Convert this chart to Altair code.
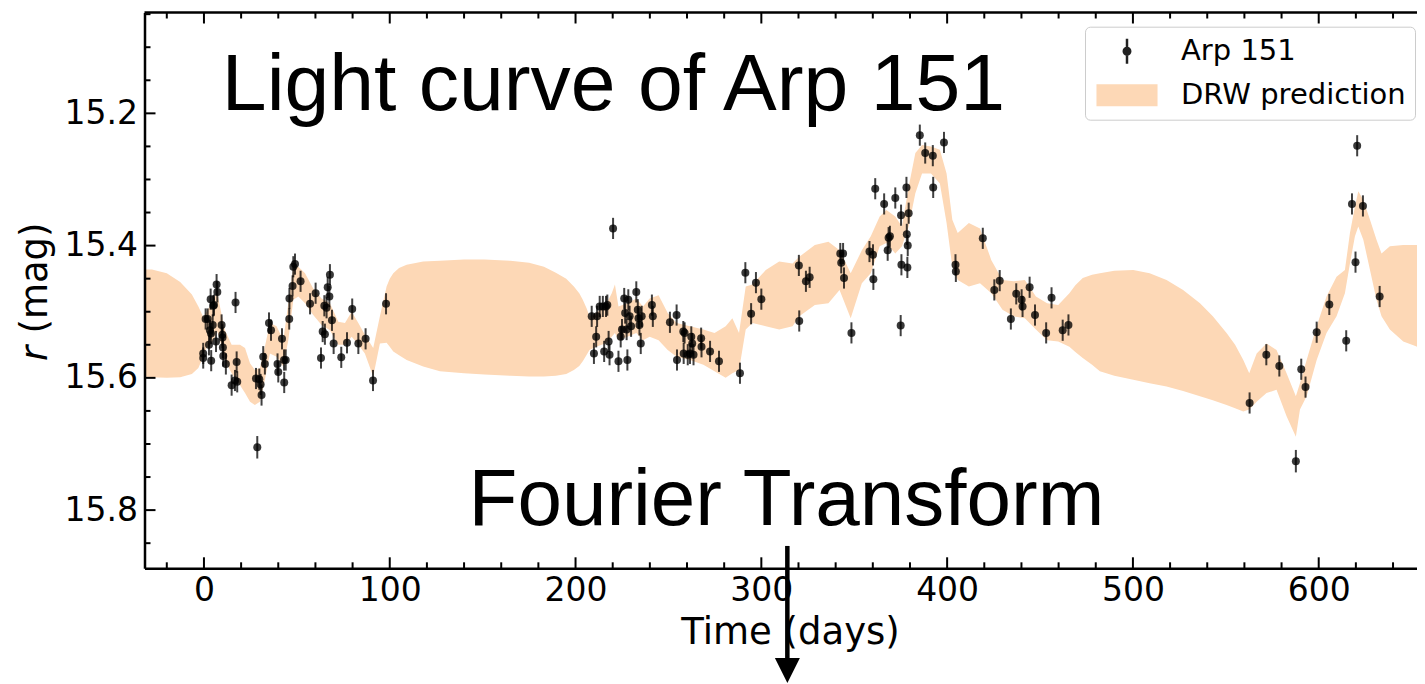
import altair as alt
import pandas as pd

# ---------------- data ----------------
# Observed r-band light curve of Arp 151: time (days), magnitude, error
T_OBS = [
    -0.4, -0.4, 0.9, 2.0, 2.7, 3.2, 3.6, 3.8, 3.9, 4.7,
    5.0, 5.4, 6.5, 6.8, 7.2, 9.5, 9.9, 10.0, 10.2, 10.4,
    11.8, 14.9, 16.7, 17.0, 17.6, 17.9, 28.0, 28.7, 29.8, 30.5,
    31.0, 31.9, 32.8, 35.0, 36.1, 39.6, 40.0, 42.0, 43.1, 43.2,
    44.0, 45.9, 46.0, 47.7, 48.1, 49.0, 52.0, 57.1, 60.1, 63.0,
    63.9, 64.8, 65.1, 66.0, 66.6, 67.5, 67.8, 68.9, 69.8, 73.9,
    77.0, 79.8, 83.1, 87.0, 91.0, 98.0,
    208.7, 209.9, 211.1, 211.6, 213.0, 214.7, 215.4, 216.4, 217.1, 217.8,
    218.3, 220.2, 223.1, 224.3, 225.0, 226.2, 226.7, 227.5, 227.9, 228.4,
    229.1, 229.9, 232.7, 233.5, 233.9, 234.4, 235.1, 235.6, 241.1, 241.6,
    250.8, 254.4, 254.6, 258.0, 258.2, 258.7, 260.4, 261.6, 262.3, 262.8,
    263.5, 267.6, 267.8, 272.4, 277.2, 288.5, 291.4, 294.5, 297.1, 300.0,
    320.2, 320.4, 324.0, 326.0, 342.5, 343.0, 344.0, 344.5, 348.5, 358.2,
    360.1, 360.3, 361.3, 366.1, 368.0, 368.5, 369.2, 372.1, 375.0, 375.2,
    375.4, 378.1, 378.3, 378.6, 378.8, 379.3, 385.3, 388.2, 392.3, 392.5,
    398.3, 404.5, 404.7, 419.2, 425.4, 428.3, 434.3, 437.2, 440.1, 440.6,
    444.4, 447.3, 453.3, 456.2, 462.2, 465.3,
    562.8, 571.8, 578.8, 587.7, 590.6, 592.9, 598.9, 605.7, 614.8, 617.9,
    619.8, 620.7, 623.8, 632.8,
]
MAG_OBS = [
    15.563, 15.570, 15.511, 15.511, 15.550, 15.528, 15.481, 15.533, 15.574, 15.520,
    15.491, 15.490, 15.545, 15.459, 15.470, 15.520, 15.535, 15.539, 15.554, 15.567,
    15.579, 15.611, 15.604, 15.486, 15.576, 15.606, 15.601, 15.705, 15.602, 15.610,
    15.626, 15.568, 15.579, 15.517, 15.528, 15.579, 15.591, 15.541, 15.573, 15.607,
    15.573, 15.511, 15.480, 15.461, 15.432, 15.428, 15.454, 15.488, 15.472, 15.570,
    15.530, 15.491, 15.534, 15.494, 15.463, 15.477, 15.444, 15.513, 15.548, 15.569,
    15.547, 15.496, 15.548, 15.541, 15.604, 15.488,
    15.507, 15.563, 15.538, 15.507, 15.492, 15.492, 15.560, 15.492, 15.490, 15.545,
    15.565, 15.374, 15.575, 15.538, 15.527, 15.480, 15.502, 15.527, 15.573, 15.482,
    15.507, 15.522, 15.470, 15.497, 15.510, 15.520, 15.548, 15.507, 15.490, 15.507,
    15.516, 15.505, 15.573, 15.530, 15.563, 15.532, 15.565, 15.563, 15.538, 15.548,
    15.565, 15.540, 15.553, 15.560, 15.575, 15.593, 15.441, 15.503, 15.456, 15.481,
    15.430, 15.514, 15.454, 15.448, 15.412, 15.426, 15.412, 15.449, 15.532, 15.409,
    15.414, 15.451, 15.314, 15.337, 15.407, 15.388, 15.386, 15.328, 15.521, 15.354,
    15.429, 15.312, 15.383, 15.433, 15.400, 15.351, 15.233, 15.260, 15.264, 15.312,
    15.244, 15.429, 15.439, 15.389, 15.467, 15.453, 15.511, 15.473, 15.482, 15.492,
    15.463, 15.505, 15.532, 15.479, 15.528, 15.520,
    15.638, 15.565, 15.582, 15.726, 15.587, 15.614, 15.531, 15.489, 15.544, 15.337,
    15.425, 15.249, 15.340, 15.477,
]
ERR_OBS = [
    0.016, 0.016, 0.016, 0.016, 0.016, 0.016, 0.016, 0.016, 0.016, 0.016,
    0.016, 0.016, 0.016, 0.016, 0.016, 0.016, 0.016, 0.016, 0.016, 0.016,
    0.016, 0.016, 0.016, 0.016, 0.016, 0.016, 0.016, 0.017, 0.016, 0.016,
    0.016, 0.016, 0.016, 0.016, 0.016, 0.016, 0.016, 0.016, 0.016, 0.016,
    0.016, 0.016, 0.016, 0.016, 0.016, 0.016, 0.016, 0.016, 0.016, 0.016,
    0.016, 0.016, 0.016, 0.016, 0.016, 0.016, 0.016, 0.016, 0.016, 0.016,
    0.016, 0.016, 0.016, 0.016, 0.016, 0.016,
    0.016, 0.016, 0.016, 0.016, 0.016, 0.016, 0.016, 0.016, 0.016, 0.016,
    0.016, 0.016, 0.016, 0.016, 0.016, 0.016, 0.016, 0.016, 0.016, 0.016,
    0.016, 0.016, 0.016, 0.016, 0.016, 0.016, 0.016, 0.016, 0.016, 0.016,
    0.016, 0.016, 0.016, 0.016, 0.016, 0.016, 0.016, 0.016, 0.016, 0.016,
    0.016, 0.016, 0.016, 0.016, 0.016, 0.016, 0.016, 0.016, 0.016, 0.016,
    0.016, 0.016, 0.016, 0.016, 0.016, 0.016, 0.016, 0.016, 0.016, 0.016,
    0.016, 0.016, 0.016, 0.016, 0.016, 0.016, 0.016, 0.016, 0.016, 0.016,
    0.016, 0.016, 0.016, 0.016, 0.016, 0.016, 0.016, 0.016, 0.016, 0.016,
    0.016, 0.016, 0.016, 0.016, 0.016, 0.016, 0.016, 0.016, 0.016, 0.016,
    0.016, 0.016, 0.016, 0.016, 0.016, 0.016,
    0.016, 0.016, 0.016, 0.017, 0.016, 0.016, 0.016, 0.016, 0.016, 0.016,
    0.016, 0.016, 0.016, 0.016,
]

# DRW prediction band: time, bright edge (low mag), faint edge (high mag)
T_BAND = [
    -32.0, -28.0, -20.0, -12.8, -6.5, -3.0, -1.5, -0.4, 1.4, 4.1,
    5.9, 7.2, 8.6, 11.3, 14.9, 19.4, 22.1, 24.8, 27.4, 30.1,
    32.8, 35.5, 39.1, 42.7, 45.4, 48.1, 50.8, 54.4, 58.8, 63.3,
    67.8, 72.3, 75.9, 79.5, 83.1, 86.6, 91.1, 94.7, 98.3, 100.0,
    101.9, 105.0, 109.1, 118.0, 127.0, 140.0, 151.0, 165.0, 175.0, 183.0,
    189.4, 195.0, 199.1, 202.0, 203.9, 206.0, 207.5, 211.1, 215.9, 219.5,
    221.2, 223.1, 227.9, 232.7, 236.3, 239.9, 244.7, 249.6, 254.4, 261.6,
    268.8, 274.8, 280.8, 284.4, 288.0, 291.6, 295.2, 302.4, 309.6, 316.8,
    320.4, 328.8, 336.1, 342.1, 348.1, 354.1, 358.9, 363.7, 367.3, 372.1,
    375.7, 379.3, 382.9, 386.5, 391.3, 396.1, 399.7, 402.8, 405.7, 411.7,
    417.7, 423.8, 429.8, 435.8, 441.8, 447.8, 453.8, 459.8, 465.8, 469.0,
    473.0, 478.0, 482.2, 490.0, 500.2, 509.0, 518.1, 527.0, 536.1, 543.0,
    550.4, 555.0, 559.4, 562.6, 566.6, 571.9, 577.3, 582.7, 587.7, 589.9,
    593.5, 598.9, 604.2, 609.6, 614.1, 616.8, 619.5, 621.3, 624.0, 627.6,
    631.1, 633.8, 638.3, 645.5, 652.0, 658.0,
]
BAND_LO = [
    15.436, 15.436, 15.442, 15.455, 15.474, 15.492, 15.501, 15.508, 15.500, 15.487,
    15.477, 15.470, 15.492, 15.528, 15.550, 15.550, 15.555, 15.578, 15.588, 15.585,
    15.553, 15.517, 15.522, 15.543, 15.487, 15.432, 15.432, 15.442, 15.465, 15.480,
    15.487, 15.515, 15.517, 15.500, 15.517, 15.535, 15.555, 15.507, 15.462, 15.450,
    15.442, 15.434, 15.429, 15.424, 15.423, 15.421, 15.421, 15.423, 15.426, 15.432,
    15.441, 15.450, 15.462, 15.472, 15.482, 15.495, 15.507, 15.502, 15.492, 15.472,
    15.459, 15.492, 15.487, 15.480, 15.492, 15.480, 15.475, 15.502, 15.517, 15.522,
    15.527, 15.532, 15.522, 15.510, 15.532, 15.462, 15.459, 15.437, 15.424, 15.427,
    15.417, 15.399, 15.394, 15.407, 15.442, 15.407, 15.386, 15.356, 15.346, 15.356,
    15.371, 15.311, 15.260, 15.248, 15.250, 15.255, 15.291, 15.361, 15.381, 15.366,
    15.374, 15.422, 15.452, 15.454, 15.452, 15.477, 15.487, 15.490, 15.472, 15.460,
    15.449, 15.444, 15.442, 15.438, 15.437, 15.442, 15.452, 15.467, 15.487, 15.507,
    15.532, 15.550, 15.573, 15.593, 15.563, 15.548, 15.558, 15.593, 15.628, 15.608,
    15.573, 15.522, 15.477, 15.447, 15.437, 15.381, 15.341, 15.318, 15.331, 15.361,
    15.391, 15.412, 15.401, 15.399, 15.399, 15.399,
]
BAND_HI = [
    15.598, 15.599, 15.600, 15.599, 15.594, 15.585, 15.575, 15.564, 15.555, 15.548,
    15.538, 15.530, 15.543, 15.573, 15.593, 15.611, 15.623, 15.636, 15.641, 15.636,
    15.603, 15.563, 15.568, 15.583, 15.543, 15.482, 15.477, 15.487, 15.505, 15.520,
    15.528, 15.550, 15.550, 15.538, 15.550, 15.563, 15.598, 15.548, 15.547, 15.553,
    15.560, 15.566, 15.573, 15.583, 15.590, 15.593, 15.595, 15.597, 15.598, 15.598,
    15.597, 15.594, 15.588, 15.582, 15.575, 15.565, 15.558, 15.553, 15.548, 15.538,
    15.532, 15.543, 15.538, 15.532, 15.543, 15.538, 15.543, 15.558, 15.568, 15.573,
    15.580, 15.590, 15.600, 15.593, 15.588, 15.527, 15.517, 15.522, 15.527, 15.522,
    15.507, 15.490, 15.487, 15.467, 15.510, 15.457, 15.442, 15.401, 15.396, 15.412,
    15.401, 15.371, 15.321, 15.291, 15.291, 15.306, 15.366, 15.432, 15.452, 15.462,
    15.457, 15.472, 15.497, 15.507, 15.510, 15.527, 15.543, 15.545, 15.553, 15.561,
    15.570, 15.580, 15.590, 15.597, 15.603, 15.608, 15.613, 15.620, 15.628, 15.634,
    15.641, 15.646, 15.651, 15.648, 15.636, 15.623, 15.618, 15.658, 15.689, 15.648,
    15.628, 15.573, 15.532, 15.507, 15.472, 15.427, 15.386, 15.371, 15.391, 15.437,
    15.482, 15.507, 15.527, 15.545, 15.552, 15.558,
]

SERIES = ["Arp 151", "DRW prediction"]
X_MAJOR = [0, 100, 200, 300, 400, 500, 600]
X_MINOR = [-20, 20, 40, 60, 80, 120, 140, 160, 180, 220, 240, 260, 280, 320, 340,
           360, 380, 420, 440, 460, 480, 520, 540, 560, 580, 620, 640]
Y_MAJOR = [15.2, 15.4, 15.6, 15.8]
Y_MINOR = [15.05, 15.10, 15.15, 15.25, 15.30, 15.35, 15.45, 15.50, 15.55, 15.65,
           15.70, 15.75, 15.85]

# ---------------- layout / style ----------------
PLOT_W = 1272.5
PLOT_H = 555.8
X_DOMAIN = [-32.0, 652.9]
Y_DOMAIN = [15.0475, 15.888]
BAND_COLOR = "#fdd8b6"
DOT_COLOR = "#000000"
FONT = "DejaVu Sans"
SANS = "Liberation Sans"

ERRBAR_PATH = ("M-0.08,-0.81L0.08,-0.81L0.08,0.81L-0.08,0.81Z "
               "M-0.29,0A0.29,0.29 0 1,1 0.29,0A0.29,0.29 0 1,1 -0.29,0Z")
PATCH_PATH = "M-1.97,-0.71L1.97,-0.71L1.97,0.71L-1.97,0.71Z"

obs = pd.DataFrame({"t": T_OBS, "mag": MAG_OBS, "err": ERR_OBS})
obs["lo"] = obs["mag"] - obs["err"]
obs["hi"] = obs["mag"] + obs["err"]
band = pd.DataFrame({"t": T_BAND, "lo": BAND_LO, "hi": BAND_HI})
one = alt.Data(values=[{}])

xscale = alt.Scale(domain=X_DOMAIN, nice=False, zero=False)
yscale = alt.Scale(domain=Y_DOMAIN, nice=False, zero=False, reverse=True)

xaxis = alt.Axis(
    values=X_MAJOR, format="d", title="Time (days)", ticks=False, grid=False,
    labelPadding=6.5, labelFont=FONT, labelFontSize=33, labelColor="black",
    labelFlush=False, labelOverlap=False,
    domainColor="black", domainWidth=2.5, zindex=1,
    titleFont=FONT, titleFontSize=37, titleFontWeight="normal", titleColor="black",
    titleX=645.5, titleY=74.7, titleBaseline="alphabetic", titleAlign="center",
)
yaxis = alt.Axis(
    values=Y_MAJOR, format=".1f", title="(mag)", ticks=False, grid=False,
    labelPadding=7, labelFont=FONT, labelFontSize=33, labelColor="black",
    labelFlush=False, labelOverlap=False,
    domainColor="black", domainWidth=2.5, zindex=1,
    titleFont=FONT, titleFontSize=37, titleFontWeight="normal", titleColor="black",
    titleAngle=270, titleX=-98, titleY=265, titleBaseline="alphabetic", titleAlign="center",
)

band_layer = alt.Chart(band).mark_area(color=BAND_COLOR, opacity=1, clip=True).encode(
    x=alt.X("t:Q", scale=xscale, axis=xaxis),
    y=alt.Y("lo:Q", scale=yscale, axis=yaxis),
    y2="hi:Q",
)
err_layer = alt.Chart(obs).mark_rule(color=DOT_COLOR, opacity=0.75, strokeWidth=2).encode(
    x="t:Q", y="lo:Q", y2="hi:Q"
)
pt_layer = alt.Chart(obs).mark_circle(color=DOT_COLOR, opacity=0.78, size=64).encode(
    x="t:Q", y="mag:Q"
)

def xticks(vals, top, length):
    df = pd.DataFrame({"xt": vals})
    y0, y1 = (0, length) if top else (PLOT_H, PLOT_H - length)
    return alt.Chart(df).mark_rule(color="black", strokeWidth=2).encode(
        x="xt:Q", y=alt.value(y0), y2=alt.value(y1)
    )

def yticks(vals, length):
    df = pd.DataFrame({"yt": vals})
    return alt.Chart(df).mark_rule(color="black", strokeWidth=2).encode(
        y="yt:Q", x=alt.value(0), x2=alt.value(length)
    )

tick_layers = [
    xticks(X_MAJOR, False, 11), xticks(X_MINOR, False, 6),
    xticks(X_MAJOR, True, 11), xticks(X_MINOR, True, 6),
    yticks(Y_MAJOR, 11), yticks(Y_MINOR, 6),
]
top_spine = alt.Chart(one).mark_rule(color="black", strokeWidth=2.5).encode(
    y=alt.datum(Y_DOMAIN[0])
)

r_label = alt.Chart(one).mark_text(
    text="r", font=FONT, fontSize=37, fontStyle="italic", angle=270,
    align="left", baseline="alphabetic", color="black",
).encode(x=alt.value(-98), y=alt.value(348.5))

title_text = alt.Chart(one).mark_text(
    text="Light curve of Arp 151", font=SANS, fontSize=80.5,
    align="center", baseline="alphabetic", color="black",
).encode(x=alt.datum(220.4), y=alt.datum(15.1949))

fourier_text = alt.Chart(one).mark_text(
    text="Fourier Transform", font=SANS, fontSize=80,
    align="center", baseline="alphabetic", color="black",
).encode(x=alt.datum(313.5), y=alt.datum(15.8225))

arrow_line = alt.Chart(one).mark_rule(color="black", strokeWidth=4.5).encode(
    x=alt.datum(314.0), y=alt.datum(15.8542), y2=alt.datum(16.03)
)
arrow_head = alt.Chart(one).mark_point(
    shape="M-1,-1L1,-1L0,1Z", size=625, filled=True, color="black", opacity=1
).encode(x=alt.datum(314.0), y=alt.datum(16.0425))

legend = alt.Legend(
    title=None, orient="none", legendX=940.5, legendY=14.2,
    symbolSize=961, symbolStrokeWidth=0, symbolOffset=17.5, symbolOpacity=1,
    labelFont=FONT, labelFontSize=29, labelColor="black", labelOffset=38.5, labelLimit=600,
    rowPadding=13, padding=9, fillColor="white", strokeColor="#cccccc", cornerRadius=5,
)
legend_layer = alt.Chart(pd.DataFrame({"series": SERIES})).mark_point(
    filled=True, opacity=0
).encode(
    fill=alt.Fill("series:N", scale=alt.Scale(domain=SERIES, range=["#222222", BAND_COLOR]),
                  legend=legend),
    shape=alt.Shape("series:N", scale=alt.Scale(domain=SERIES, range=[ERRBAR_PATH, PATCH_PATH]),
                    legend=legend),
)

chart = alt.layer(
    band_layer, err_layer, pt_layer, *tick_layers, top_spine,
    r_label, title_text, fourier_text, arrow_line, arrow_head, legend_layer,
).properties(
    width=PLOT_W, height=PLOT_H,
    padding={"left": 136.5, "top": 4.5, "right": 0, "bottom": 115.7},
    autosize=alt.AutoSizeParams(type="none"),
    background="white",
).configure_view(stroke=None)

chart.save("out.html", embed_options={"renderer": "svg", "actions": False})
